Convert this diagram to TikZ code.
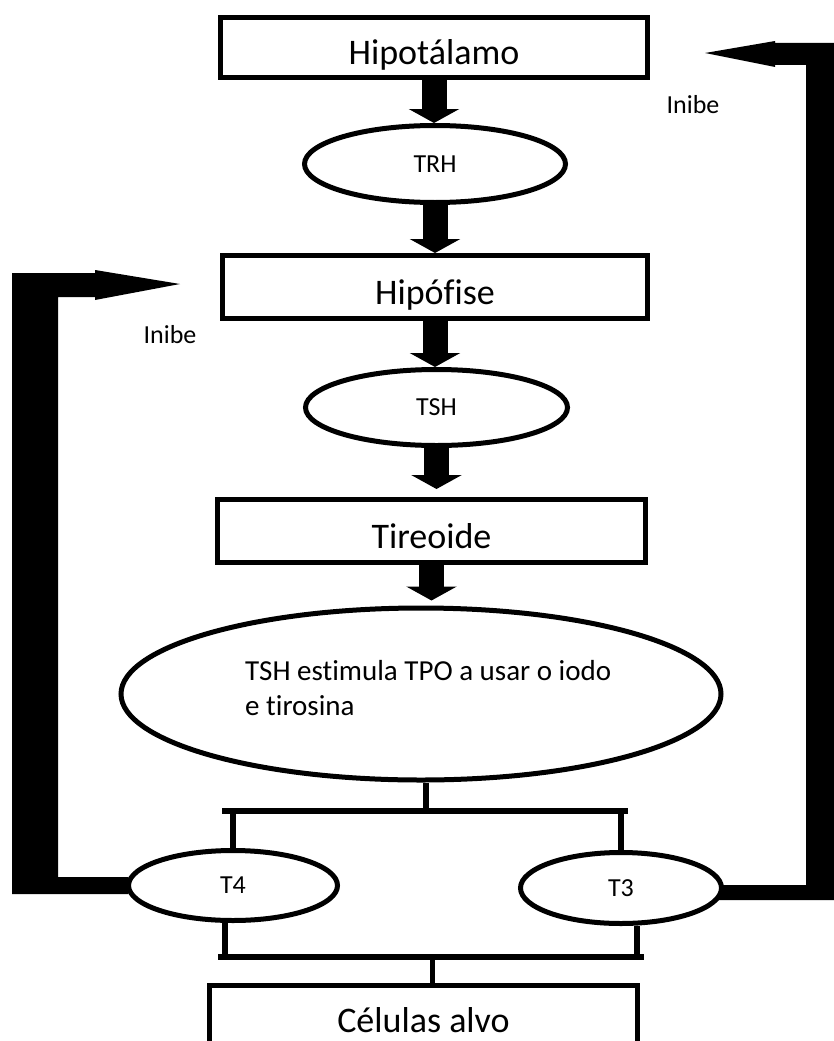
\documentclass[tikz,border=0pt]{standalone}
\usepackage{fontspec}
\setmainfont{Carlito}[Ligatures=NoCommon]
\usetikzlibrary{shapes.geometric,arrows.meta,calc}
\begin{document}
\begin{tikzpicture}[x=1pt,y=-1pt,
  box/.style={draw, line width=5pt, inner sep=0pt, text height=34pt, text depth=0pt, font=\fontsize{36}{40}\selectfont},
  oval/.style={draw, ellipse, line width=5pt, inner sep=0pt, font=\fontsize{26}{30}\selectfont},
  blockarrow/.style={line width=25pt, -{Triangle[width=50pt,length=14pt]}},
  bar/.style={line width=5.5pt},
  lbl/.style={font=\fontsize{26}{30}\selectfont}]
\useasboundingbox (0,0) rectangle (834,1041);

\node[box, minimum width=427pt, minimum height=60pt] (hipot) at (434,47.5) {Hipotálamo};
\node[oval, minimum width=261pt, minimum height=77pt] (trh) at (435,164) {TRH};
\node[box, minimum width=425pt, minimum height=63pt] (hipof) at (435,287) {Hipófise};
\node[oval, minimum width=262pt, minimum height=76pt] (tsh) at (436.5,407.5) {TSH};
\node[box, minimum width=428pt, minimum height=63pt] (tireo) at (431.5,531) {Tireoide};
\node[oval, minimum width=600pt, minimum height=172pt] (stim) at (421,694) {};
\node[anchor=base west, align=left, inner sep=0pt, font=\fontsize{29}{35}\selectfont] (stimtxt) at (245,715) {TSH estimula TPO a usar o iodo\\e tirosina};
\node[oval, minimum width=209pt, minimum height=70pt] (t4) at (233,885.5) {T4};
\node[oval, minimum width=201pt, minimum height=71pt] (t3) at (621,888) {T3};
\node[box, minimum width=428pt, minimum height=70pt] (cel) at (423.5,1020.5) {\raisebox{5pt}[\height][\depth]{Células alvo}};

\node[lbl] (inibe1) at (170,335) {Inibe};
\node[lbl] (inibe2) at (693,105) {Inibe};

% block arrows
\draw[blockarrow] (hipot.south) -- (hipot.south |- trh.north);
\draw[blockarrow] (trh.south) -- (trh.south |- hipof.north);
\draw[blockarrow] (hipof.south) -- (hipof.south |- tsh.north);
\draw[blockarrow, shorten >=8pt] (tsh.south) -- (tsh.south |- tireo.north);
\draw[blockarrow, shorten >=5pt] (tireo.south) -- (tireo.south |- stim.north);

% brackets
\coordinate (bl1) at (222,811);
\coordinate (br1) at (628,811);
\coordinate (bl2) at (218,957);
\coordinate (br2) at (644,957);
\path ([xshift=5pt]stim.south) coordinate (stimb);
\draw[bar] (stimb) -- (stimb |- bl1);
\draw[bar] (bl1) -- (br1);
\draw[bar] (t4.north) -- (t4.north |- bl1);
\draw[bar] (t3.north) -- (t3.north |- br1);
\path ([xshift=-8pt]t4.south) coordinate (t4b);
\path ([xshift=16pt]t3.south) coordinate (t3b);
\path ([xshift=9pt]cel.north) coordinate (celt);
\draw[bar] (t4b) -- (t4b |- bl2);
\draw[bar] (t3b) -- (t3b |- br2);
\draw[bar] (bl2) -- (br2);
\draw[bar] (celt) -- (celt |- bl2);

% feedback arrows
\fill ($(t4.west)+(2,-8.5)$) -- (58,877) -- (58,297) -- (95,297) -- (95,300)
  -- (180,284) -- (95,270) -- (95,273) -- (12,273) -- (12,894)
  -- ($(t4.west)+(2,8.5)$) -- cycle;
\fill ($(t3.east)+(-1,-3)$) -- (806,885) -- (806,65) -- (775,65) -- (775,67)
  -- (705,53) -- (775,41) -- (775,43) -- (834,43) -- (834,900)
  -- ($(t3.east)+(-6,12)$) -- cycle;
\end{tikzpicture}
\end{document}
